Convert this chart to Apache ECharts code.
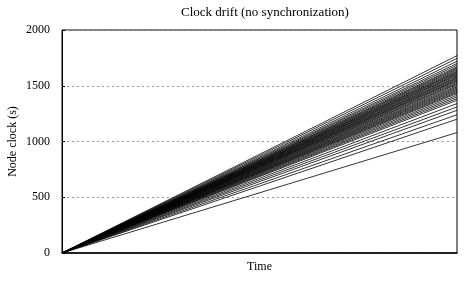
<!DOCTYPE html>
<html>
<head>
<meta charset="utf-8">
<script src="https://cdn.jsdelivr.net/npm/echarts@6/dist/echarts.min.js"></script>
<style>
  html, body { margin: 0; padding: 0; background: #fff; }
  #chart { width: 465px; height: 282px; }
</style>
</head>
<body>
<div id="chart"></div>
<script>
  // time span (arbitrary units, no labels shown)
  var timeRange = [0, 100];
  // node clock value at the end of the time span, one per node
  var endClocks = [1770, 1745, 1720, 1700, 1685, 1670, 1660, 1650, 1640, 1630,
    1622, 1615, 1605, 1598, 1590, 1580, 1572, 1565, 1555, 1548,
    1540, 1530, 1520, 1512, 1500, 1490, 1480, 1470, 1460, 1450,
    1440, 1430, 1415, 1400, 1385, 1370, 1340, 1310, 1280, 1240,
    1200, 1080];
  var yTicks = [0, 500, 1000, 1500, 2000];

  var font = 'Liberation Serif';

  var series = endClocks.map(function (v, i) {
    return {
      name: 'node' + i,
      type: 'line',
      data: [[timeRange[0], 0], [timeRange[1], v]],
      showSymbol: false,
      silent: true,
      lineStyle: { color: '#000', width: 0.8 }
    }
  })

  var myChart = echarts.init(document.getElementById('chart'))
  myChart.setOption({
    animation: false,
    title: {
      text: 'Clock drift (no synchronization)',
      left: 260,
      textAlign: 'center',
      top: 1,
      textStyle: { fontFamily: font, fontWeight: 'normal', fontSize: 13, color: '#000' }
    },
    grid: {
      left: 62,
      right: 8,
      top: 30,
      bottom: 29,
      containLabel: false,
      outerBoundsMode: 'none',
      show: true,
      borderColor: '#000',
      borderWidth: 1
    },
    xAxis: {
      type: 'value',
      min: timeRange[0],
      max: timeRange[1],
      name: 'Time',
      nameLocation: 'middle',
      nameGap: 8,
      nameTextStyle: { fontFamily: font, fontSize: 12, color: '#000' },
      axisLine: { show: true, lineStyle: { color: '#000', width: 1.5 } },
      axisTick: { show: false },
      axisLabel: { show: false },
      splitLine: { show: false }
    },
    yAxis: {
      type: 'value',
      min: yTicks[0],
      max: yTicks[yTicks.length - 1],
      interval: 500,
      name: 'Node clock (s)',
      nameLocation: 'middle',
      nameMoveOverlap: false,
      nameGap: 43,
      nameTextStyle: { fontFamily: font, fontSize: 12, color: '#000' },
      axisLine: { show: true, lineStyle: { color: '#000', width: 1 } },
      axisTick: { show: true, inside: true, length: 3, lineStyle: { color: '#000' } },
      axisLabel: { fontFamily: font, fontSize: 12, color: '#000', margin: 12, formatter: function (v) { return String(v) } },
      splitLine: { show: true, lineStyle: { color: '#999', type: [2, 3], width: 1 } }
    },
    series: series
  })
</script>
</body>
</html>
